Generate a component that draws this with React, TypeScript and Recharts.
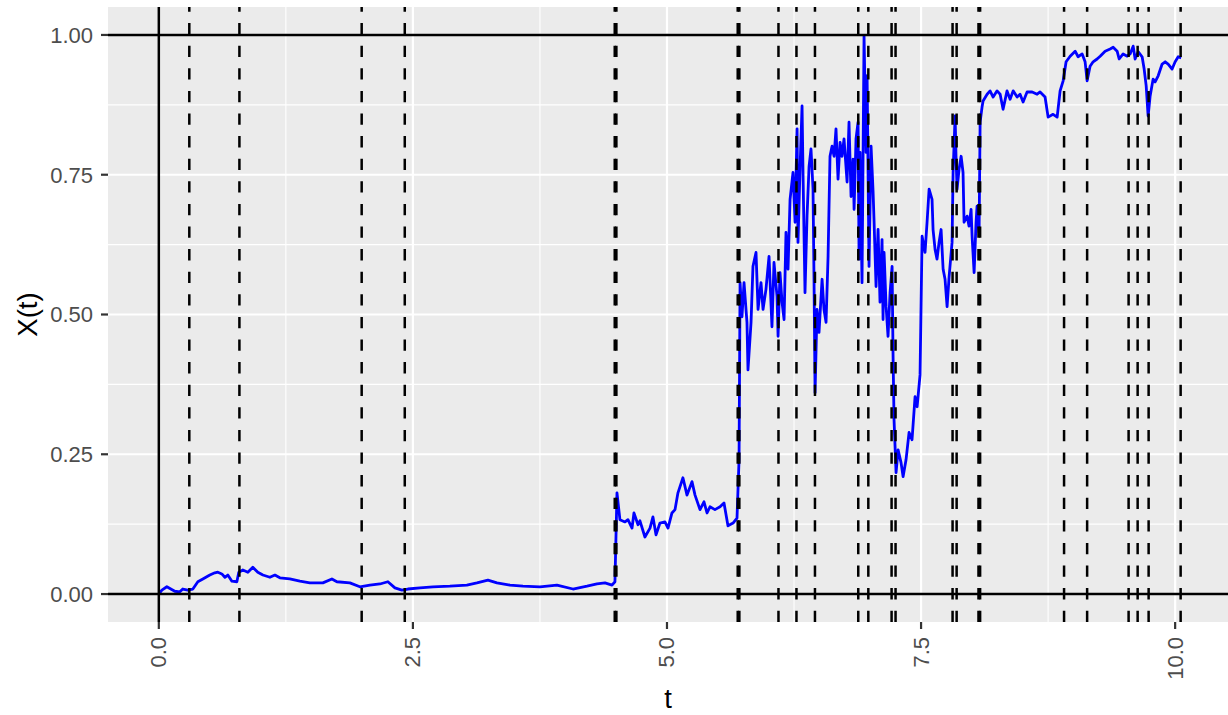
import { LineChart, Line, XAxis, YAxis, CartesianGrid, ReferenceLine, Label } from "recharts"

const samplePath: [number, number][] = [
  [0, 0], [0.03, 0.007], [0.079, 0.013], [0.157, 0.005], [0.207, 0.004], [0.236, 0.009],
  [0.285, 0.007], [0.335, 0.009], [0.384, 0.022], [0.433, 0.027], [0.502, 0.034], [0.551, 0.038],
  [0.581, 0.039], [0.62, 0.036], [0.65, 0.03], [0.679, 0.034], [0.719, 0.023], [0.768, 0.022],
  [0.787, 0.039], [0.827, 0.043], [0.876, 0.039], [0.925, 0.048], [0.974, 0.039], [1.024, 0.034],
  [1.093, 0.03], [1.142, 0.034], [1.191, 0.029], [1.289, 0.027], [1.388, 0.023], [1.486, 0.02],
  [1.614, 0.02], [1.703, 0.027], [1.752, 0.022], [1.88, 0.02], [1.978, 0.013], [2.077, 0.016],
  [2.175, 0.018], [2.254, 0.022], [2.323, 0.011], [2.392, 0.007], [2.451, 0.009], [2.569, 0.011],
  [2.697, 0.013], [2.864, 0.014], [3.031, 0.016], [3.13, 0.02], [3.238, 0.025], [3.327, 0.02],
  [3.455, 0.016], [3.583, 0.014], [3.75, 0.013], [3.917, 0.016], [4.075, 0.009], [4.213, 0.014],
  [4.311, 0.018], [4.39, 0.02], [4.459, 0.016], [4.488, 0.022], [4.508, 0.181], [4.537, 0.133],
  [4.587, 0.129], [4.616, 0.133], [4.656, 0.118], [4.675, 0.145], [4.715, 0.124], [4.734, 0.131],
  [4.783, 0.102], [4.833, 0.118], [4.862, 0.138], [4.892, 0.106], [4.931, 0.127], [4.98, 0.129],
  [5.01, 0.118], [5.049, 0.145], [5.079, 0.151], [5.108, 0.181], [5.157, 0.208], [5.197, 0.177],
  [5.246, 0.201], [5.276, 0.177], [5.325, 0.151], [5.364, 0.165], [5.394, 0.145], [5.423, 0.156],
  [5.472, 0.151], [5.522, 0.156], [5.561, 0.163], [5.6, 0.122], [5.65, 0.127], [5.689, 0.136],
  [5.709, 0.24], [5.719, 0.557], [5.738, 0.496], [5.758, 0.557], [5.787, 0.486], [5.797, 0.401],
  [5.827, 0.486], [5.846, 0.586], [5.876, 0.611], [5.896, 0.509], [5.925, 0.557], [5.945, 0.509],
  [5.974, 0.545], [6.004, 0.604], [6.033, 0.478], [6.053, 0.593], [6.083, 0.532], [6.093, 0.461],
  [6.112, 0.575], [6.132, 0.522], [6.152, 0.491], [6.171, 0.647], [6.191, 0.581], [6.211, 0.706],
  [6.24, 0.754], [6.26, 0.665], [6.28, 0.832], [6.289, 0.629], [6.309, 0.76], [6.329, 0.873],
  [6.339, 0.747], [6.358, 0.539], [6.378, 0.676], [6.398, 0.765], [6.417, 0.796], [6.437, 0.724],
  [6.447, 0.557], [6.457, 0.36], [6.476, 0.509], [6.496, 0.468], [6.526, 0.563], [6.545, 0.509],
  [6.565, 0.486], [6.585, 0.604], [6.604, 0.783], [6.624, 0.801], [6.644, 0.783], [6.663, 0.832],
  [6.683, 0.742], [6.703, 0.808], [6.722, 0.783], [6.742, 0.814], [6.772, 0.737], [6.791, 0.844],
  [6.811, 0.711], [6.831, 0.778], [6.841, 0.688], [6.86, 0.814], [6.88, 0.844], [6.89, 0.599],
  [6.9, 0.79], [6.919, 0.557], [6.939, 0.998], [6.959, 0.79], [6.969, 0.927], [6.988, 0.586],
  [7.008, 0.801], [7.028, 0.719], [7.037, 0.67], [7.057, 0.55], [7.077, 0.652], [7.096, 0.522],
  [7.116, 0.634], [7.126, 0.491], [7.136, 0.611], [7.156, 0.514], [7.175, 0.461], [7.195, 0.539],
  [7.215, 0.586], [7.224, 0.432], [7.234, 0.312], [7.254, 0.217], [7.274, 0.258], [7.303, 0.235],
  [7.323, 0.21], [7.352, 0.24], [7.382, 0.289], [7.411, 0.276], [7.441, 0.353], [7.461, 0.335],
  [7.49, 0.392], [7.51, 0.64], [7.539, 0.611], [7.559, 0.665], [7.579, 0.724], [7.608, 0.706],
  [7.618, 0.652], [7.638, 0.616], [7.657, 0.599], [7.677, 0.629], [7.697, 0.652], [7.717, 0.581],
  [7.736, 0.563], [7.756, 0.514], [7.776, 0.568], [7.805, 0.629], [7.815, 0.754], [7.835, 0.855],
  [7.844, 0.783], [7.854, 0.724], [7.874, 0.76], [7.894, 0.783], [7.913, 0.754], [7.923, 0.665],
  [7.953, 0.676], [7.972, 0.658], [7.992, 0.688], [8.002, 0.64], [8.022, 0.575], [8.041, 0.665],
  [8.051, 0.694], [8.071, 0.647], [8.081, 0.844], [8.1, 0.871], [8.11, 0.882], [8.15, 0.894],
  [8.179, 0.9], [8.209, 0.889], [8.248, 0.9], [8.278, 0.894], [8.307, 0.867], [8.346, 0.9],
  [8.376, 0.885], [8.406, 0.9], [8.445, 0.889], [8.474, 0.894], [8.504, 0.88], [8.543, 0.898],
  [8.593, 0.898], [8.642, 0.894], [8.671, 0.898], [8.72, 0.889], [8.75, 0.853], [8.799, 0.858],
  [8.839, 0.853], [8.868, 0.9], [8.898, 0.918], [8.927, 0.952], [8.967, 0.962], [9.016, 0.971],
  [9.045, 0.961], [9.085, 0.966], [9.114, 0.952], [9.134, 0.918], [9.163, 0.944], [9.193, 0.952],
  [9.232, 0.957], [9.262, 0.962], [9.311, 0.971], [9.36, 0.975], [9.39, 0.978], [9.429, 0.971],
  [9.449, 0.957], [9.488, 0.966], [9.528, 0.962], [9.557, 0.966], [9.587, 0.98], [9.606, 0.957],
  [9.636, 0.97], [9.675, 0.961], [9.695, 0.939], [9.715, 0.909], [9.734, 0.855], [9.754, 0.891],
  [9.783, 0.921], [9.803, 0.916], [9.833, 0.927], [9.872, 0.948], [9.902, 0.952], [9.931, 0.948],
  [9.97, 0.939], [10.0, 0.952], [10.03, 0.961], [10.059, 0.959],
]

// jump times (dashed vertical lines)
const jumpTimes = [
  0.3, 0.793, 1.996, 2.42, 4.486, 4.502, 5.696, 5.712, 6.097, 6.274, 6.456,
  6.882, 6.981, 7.21, 7.249, 7.81, 7.85, 8.065, 8.081, 8.907, 9.134, 9.542,
  9.631, 9.739, 10.054,
]

const xTicks = [0, 2.5, 5, 7.5, 10]
const xMinor = [1.25, 3.75, 6.25, 8.75]
const yTicks = [0, 0.25, 0.5, 0.75, 1]
const yMinor = [0.125, 0.375, 0.625, 0.875]
const boundaryLevels = [0, 1]

const FONT = "Liberation Sans, Arial, Helvetica, sans-serif"

const chartData = samplePath.map(([t, x]) => ({ t, x }))

function RotatedTick(props: any) {
  const { x, y, payload } = props
  return (
    <text
      x={x}
      y={y}
      transform={`rotate(-90, ${x}, ${y})`}
      textAnchor="end"
      dominantBaseline="central"
      fill="#4D4D4D"
      fontSize={22}
      fontFamily={FONT}
    >
      {Number(payload.value).toFixed(1)}
    </text>
  )
}

export default function App() {
  return (
    <div style={{ position: "absolute", left: 0, top: 0 }}>
      <LineChart
        width={1228}
        height={715}
        data={chartData}
        margin={{ top: 7, right: 0, bottom: 0, left: 0 }}
      >
        <CartesianGrid
          fill="#EBEBEB"
          stroke="#FFFFFF"
          strokeWidth={1.1}
          verticalValues={xMinor}
          horizontalValues={yMinor}
        />
        <CartesianGrid
          stroke="#FFFFFF"
          strokeWidth={2.2}
          verticalValues={xTicks}
          horizontalValues={yTicks}
        />
        <XAxis
          type="number"
          dataKey="t"
          domain={[-0.5, 10.52]}
          ticks={xTicks}
          interval={0}
          height={93}
          axisLine={false}
          tickSize={7}
          tickMargin={8}
          tickLine={{ stroke: "#333333", strokeWidth: 2.2 }}
          tick={<RotatedTick />}
          allowDataOverflow
        >
          <Label
            content={(p: any) => {
              const vb = p.viewBox
              return (
                <text
                  x={vb.x + vb.width / 2}
                  y={vb.y + vb.height - 7}
                  textAnchor="middle"
                  fontSize={27.5}
                  fontFamily={FONT}
                  fill="#000000"
                >
                  t
                </text>
              )
            }}
          />
        </XAxis>
        <YAxis
          type="number"
          domain={[-0.05, 1.05]}
          ticks={yTicks}
          interval={0}
          width={108}
          axisLine={false}
          tickSize={7}
          tickMargin={8}
          tickFormatter={(v: number) => v.toFixed(2)}
          tickLine={{ stroke: "#333333", strokeWidth: 2.2 }}
          tick={{ fill: "#4D4D4D", fontSize: 22, fontFamily: FONT }}
          allowDataOverflow
        >
          <Label
            content={(p: any) => {
              const vb = p.viewBox
              const cx = vb.x + 27
              const cy = vb.y + vb.height / 2
              return (
                <text
                  x={cx}
                  y={cy}
                  transform={`rotate(-90, ${cx}, ${cy})`}
                  textAnchor="middle"
                  dominantBaseline="central"
                  fontSize={27.5}
                  fontFamily={FONT}
                  fill="#000000"
                >
                  X(t)
                </text>
              )
            }}
          />
        </YAxis>
        <Line
          type="linear"
          dataKey="x"
          stroke="#0000FF"
          strokeWidth={2.8}
          strokeLinejoin="round"
          dot={false}
          activeDot={false}
          isAnimationActive={false}
        />
        {boundaryLevels.map((lvl) => (
          <ReferenceLine key={`h${lvl}`} y={lvl} stroke="#000000" strokeWidth={2.5} />
        ))}
        <ReferenceLine x={0} stroke="#000000" strokeWidth={2.5} />
        {jumpTimes.map((jt, i) => (
          <ReferenceLine
            key={`j${i}`}
            x={jt}
            stroke="#000000"
            strokeWidth={2.5}
            strokeDasharray="11.3 11.3"
          />
        ))}
      </LineChart>
    </div>
  )
}
